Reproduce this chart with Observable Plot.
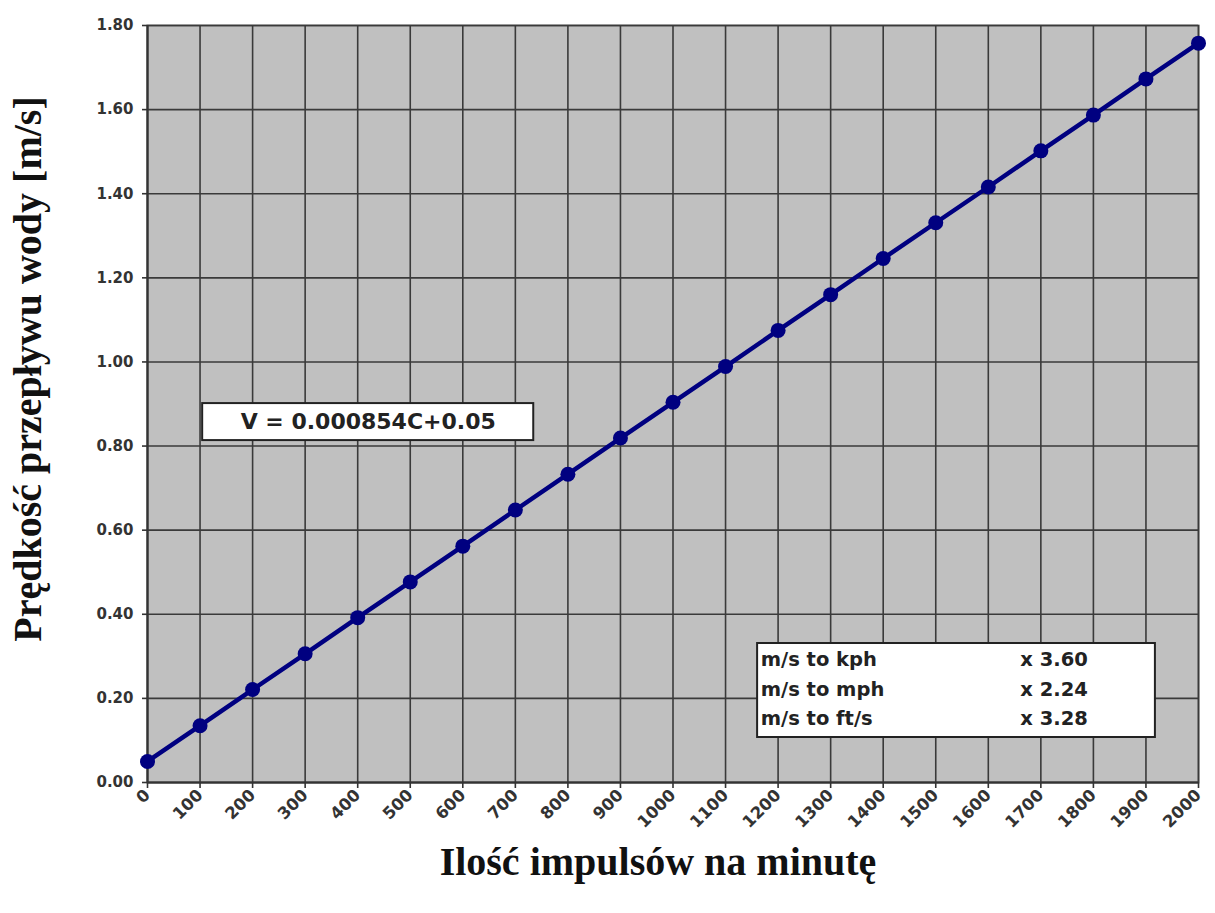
<!DOCTYPE html>
<html>
<head>
<meta charset="utf-8">
<script src="https://cdn.jsdelivr.net/npm/d3@7"></script>
<script src="https://cdn.jsdelivr.net/npm/@observablehq/plot@0.6"></script>
<style>
  html, body { margin: 0; padding: 0; background: #fff; }
</style>
</head>
<body>
<div id="chart"></div>
<script>
// ---- data ----
const impulses = [0, 100, 200, 300, 400, 500, 600, 700, 800, 900, 1000, 1100, 1200, 1300, 1400, 1500, 1600, 1700, 1800, 1900, 2000];
const velocity = [0.05, 0.135, 0.221, 0.306, 0.392, 0.477, 0.562, 0.648, 0.733, 0.819, 0.904, 0.989, 1.075, 1.160, 1.246, 1.331, 1.416, 1.502, 1.587, 1.673, 1.758];
const xTickValues = [0, 100, 200, 300, 400, 500, 600, 700, 800, 900, 1000, 1100, 1200, 1300, 1400, 1500, 1600, 1700, 1800, 1900, 2000];
const yTickValues = [0, 0.2, 0.4, 0.6, 0.8, 1.0, 1.2, 1.4, 1.6, 1.8];
const equationText = "V = 0.000854C+0.05";
const conversionNames = ["m/s to kph", "m/s to mph", "m/s to ft/s"];
const conversionFactors = ["x 3.60", "x 2.24", "x 3.28"];
const xTitle = "Ilość impulsów na minutę";
const yTitle = "Prędkość przepływu wody [m/s]";

const points = impulses.map((c, i) => ({c, v: velocity[i]}));
const convRows = conversionNames.map((n, i) => ({name: n, factor: conversionFactors[i], row: i}));
const rowY = [0.2925, 0.221, 0.152];

const sans = "DejaVu Sans";
const serif = "Liberation Serif";

const chart = Plot.plot({
  width: 1215,
  height: 913,
  marginLeft: 147,
  marginRight: 17,
  marginTop: 25,
  marginBottom: 131,
  style: {fontFamily: sans, background: "#fff", color: "#222"},
  x: {domain: [0, 2000]},
  y: {domain: [0, 1.8]},
  marks: [
    Plot.frame({fill: "#c0c0c0", stroke: "#7a7a7a", strokeWidth: 2}),
    Plot.gridX(xTickValues, {stroke: "#3a3a3a", strokeOpacity: 1, strokeWidth: 1.6}),
    Plot.gridY(yTickValues, {stroke: "#3a3a3a", strokeOpacity: 1, strokeWidth: 1.6}),
    Plot.ruleX([0], {stroke: "#333", strokeWidth: 2}),
    Plot.ruleY([0], {stroke: "#333", strokeWidth: 2}),
    Plot.axisX(xTickValues, {
      tickRotate: -45, tickSize: 6, tickPadding: 4, fontSize: 16.5, fontWeight: "bold",
      tickFormat: d => String(d), label: null, stroke: "#333", strokeWidth: 1.6, fill: "#333"
    }),
    Plot.axisY(yTickValues, {
      tickSize: 5, tickPadding: 9, fontSize: 15, fontWeight: "bold",
      tickFormat: d => d.toFixed(2), label: null, stroke: "#333", strokeWidth: 1.6, fill: "#333"
    }),
    Plot.line(points, {x: "c", y: "v", stroke: "#000080", strokeWidth: 4.5}),
    Plot.dot(points, {x: "c", y: "v", r: 7.5, fill: "#000080", stroke: "#000080", strokeWidth: 0}),
    // equation box
    Plot.rect([{x1: 105, x2: 735, y1: 0.813, y2: 0.901}], {
      x1: "x1", x2: "x2", y1: "y1", y2: "y2", fill: "white", stroke: "#222", strokeWidth: 2
    }),
    Plot.text([equationText], {
      x: 420, y: 0.857, text: d => d, fontSize: 22, fontWeight: "bold", fill: "#222", fontFamily: sans
    }),
    // conversion box
    Plot.rect([{x1: 1161, x2: 1918, y1: 0.107, y2: 0.3305}], {
      x1: "x1", x2: "x2", y1: "y1", y2: "y2", fill: "white", stroke: "#222", strokeWidth: 2
    }),
    Plot.text(convRows, {
      x: 1167, y: d => rowY[d.row], text: "name", textAnchor: "start",
      fontSize: 19.5, fontWeight: "bold", fill: "#222", fontFamily: sans
    }),
    Plot.text(convRows, {
      x: 1661, y: d => rowY[d.row], text: "factor", textAnchor: "start",
      fontSize: 19.5, fontWeight: "bold", fill: "#222", fontFamily: sans
    }),
    // axis titles
    Plot.text([xTitle], {
      frameAnchor: "bottom", text: d => d, dx: -15, dy: 92,
      fontSize: 40, fontWeight: "bold", fontFamily: serif, fill: "#111"
    }),
    Plot.text([yTitle], {
      frameAnchor: "left", textAnchor: "middle", text: d => d, rotate: -90, dx: -119, dy: -35,
      fontSize: 40, fontWeight: "bold", fontFamily: serif, fill: "#111"
    })
  ]
});
document.getElementById("chart").appendChild(chart);
</script>
</body>
</html>
